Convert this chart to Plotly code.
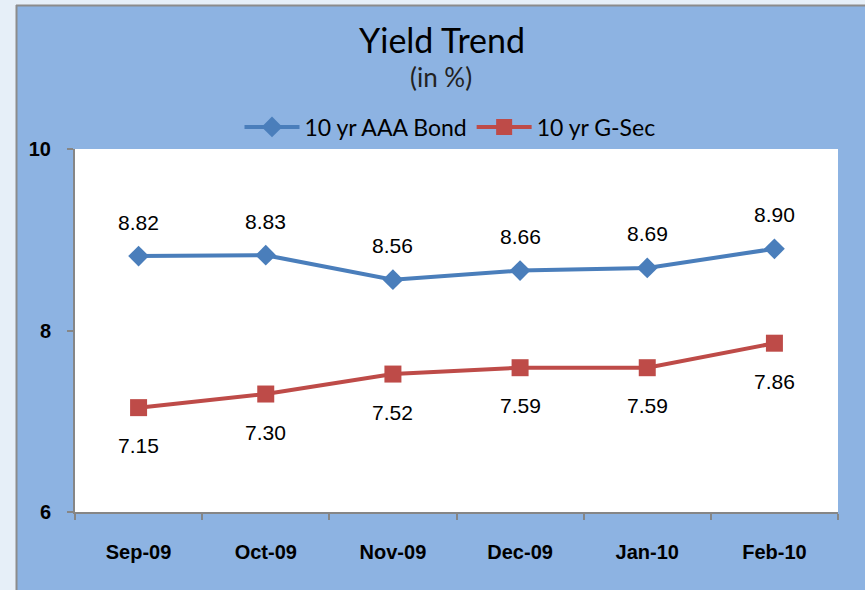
import plotly.graph_objects as go

months = ["Sep-09", "Oct-09", "Nov-09", "Dec-09", "Jan-10", "Feb-10"]
aaa_bond = [8.82, 8.83, 8.56, 8.66, 8.69, 8.90]
g_sec = [7.15, 7.30, 7.52, 7.59, 7.59, 7.86]
y_ticks = [6, 8, 10]

W, H = 865, 590
L, R, T, B = 75, 838, 149, 512

def px(x):
    return (x - L) / (R - L)

def py(y):
    return (B - y) / (B - T)

blue = "#4A7EBB"
red = "#BE4B48"
bg = "#8DB3E2"
label_font = dict(family="Liberation Sans, Arial", size=21, color="black")

fig = go.Figure()
fig.add_trace(go.Scatter(
    x=months, y=aaa_bond, name="10 yr AAA Bond", mode="lines+markers",
    line=dict(color=blue, width=4),
    marker=dict(symbol="diamond", size=16, color=blue),
))
fig.add_trace(go.Scatter(
    x=months, y=g_sec, name="10 yr G-Sec", mode="lines+markers",
    line=dict(color=red, width=4),
    marker=dict(symbol="square", size=17, color=red),
))

for m, v in zip(months, aaa_bond):
    fig.add_annotation(x=m, y=v, text=f"{v:.2f}", showarrow=False, yshift=34,
                       yanchor="middle", font=label_font)
for m, v in zip(months, g_sec):
    fig.add_annotation(x=m, y=v, text=f"{v:.2f}", showarrow=False, yshift=-38,
                       yanchor="middle", font=label_font)

fig.add_annotation(xref="paper", yref="paper", x=px(442), y=py(40), text="Yield Trend",
                   xanchor="center", yanchor="middle", showarrow=False,
                   font=dict(family="Lato, Open Sans", size=34, color="black"))
fig.add_annotation(xref="paper", yref="paper", x=px(441), y=py(77), text="(in %)",
                   xanchor="center", yanchor="middle", showarrow=False,
                   font=dict(family="Lato, Open Sans", size=26, color="#222"))

shapes = [
    dict(type="rect", xref="paper", yref="paper", x0=px(-5), x1=px(16), y0=py(600), y1=py(-5),
         fillcolor="#E6EFF8", line=dict(width=0), layer="below"),
    dict(type="rect", xref="paper", yref="paper", x0=px(-5), x1=px(870), y0=py(5), y1=py(-5),
         fillcolor="#E6EFF8", line=dict(width=0), layer="below"),
    dict(type="line", xref="paper", yref="paper", x0=px(16.5), x1=px(16.5), y0=py(5), y1=py(600),
         line=dict(color="#8C8C8C", width=2)),
    dict(type="line", xref="paper", yref="paper", x0=px(16), x1=px(870), y0=py(5.5), y1=py(5.5),
         line=dict(color="#8C8C8C", width=2)),
]

tick_font = dict(family="Liberation Sans, Arial", size=20, color="black", weight="bold")

fig.update_layout(
    width=W, height=H,
    margin=dict(l=L, r=W - R, t=T, b=H - B, pad=0),
    paper_bgcolor=bg, plot_bgcolor="white",
    shapes=shapes,
    showlegend=True,
    legend=dict(orientation="h", x=px(450), xanchor="center", y=py(127), yanchor="middle",
                font=dict(family="Lato, Open Sans", size=23, color="black"),
                bgcolor="rgba(0,0,0,0)", tracegroupgap=0, itemwidth=55),
    xaxis=dict(type="category", range=[-0.5, 5.5], tickson="boundaries",
               showline=True, linecolor="#868686", linewidth=2,
               ticks="outside", ticklen=6, tickcolor="#868686", tickwidth=2,
               showgrid=False, zeroline=False, ticklabelstandoff=21,
               tickfont=tick_font),
    yaxis=dict(range=[6, 10], tickvals=y_ticks, ticktext=[str(t) for t in y_ticks],
               showline=True, linecolor="#868686", linewidth=2,
               ticks="outside", ticklen=6, tickcolor="#868686", tickwidth=2,
               showgrid=False, zeroline=False, ticklabelstandoff=12,
               tickfont=tick_font),
)

fig.write_html("out.html", config={"displayModeBar": False},
               post_script="document.body.style.margin='0';")
